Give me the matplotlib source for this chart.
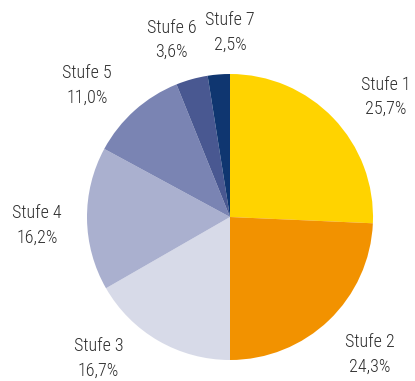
import matplotlib
matplotlib.use("Agg")
import matplotlib.pyplot as plt
from matplotlib import font_manager

categories = ["Stufe 1", "Stufe 2", "Stufe 3", "Stufe 4", "Stufe 5", "Stufe 6", "Stufe 7"]
shares = [25.7, 24.3, 16.7, 16.2, 11.0, 3.6, 2.5]
colors = ["#FFD300", "#F29200", "#D7DAE8", "#AAB0CF", "#7A84B3", "#495891", "#0F3670"]

# label centres in data units (pie radius = 1)
label_pos = [(1.09, 0.84), (0.98, -0.96), (-0.92, -0.99), (-1.35, -0.06),
             (-1.0, 0.92), (-0.41, 1.24), (0.0, 1.29)]

installed = {f.name for f in font_manager.fontManager.ttflist}
family = "DejaVu Sans"
for cand in ["Roboto Condensed", "Liberation Sans Narrow", "Open Sans Condensed",
             "DejaVu Sans Condensed", "Roboto"]:
    if cand in installed:
        family = cand
        break

W, H = 415, 381
fig = plt.figure(figsize=(W / 100, H / 100), dpi=100)
cx, cy, r = 230, 217, 143
ax = fig.add_axes([(cx - r) / W, (H - cy - r) / H, 2 * r / W, 2 * r / H])
ax.pie(shares, colors=colors, startangle=90, counterclock=False, radius=1,
       wedgeprops=dict(linewidth=0))
ax.set_xlim(-1, 1)
ax.set_ylim(-1, 1)
ax.set_aspect("equal")
ax.axis("off")

for name, val, (x, y) in zip(categories, shares, label_pos):
    txt = f"{name}\n{val:.1f}%".replace(".", ",")
    ax.text(x, y, txt, ha="center", va="center", fontsize=13, color="#2e2e2e",
            family=family, fontweight="light", linespacing=1.45, clip_on=False)

fig.savefig("out.png", dpi=100)
